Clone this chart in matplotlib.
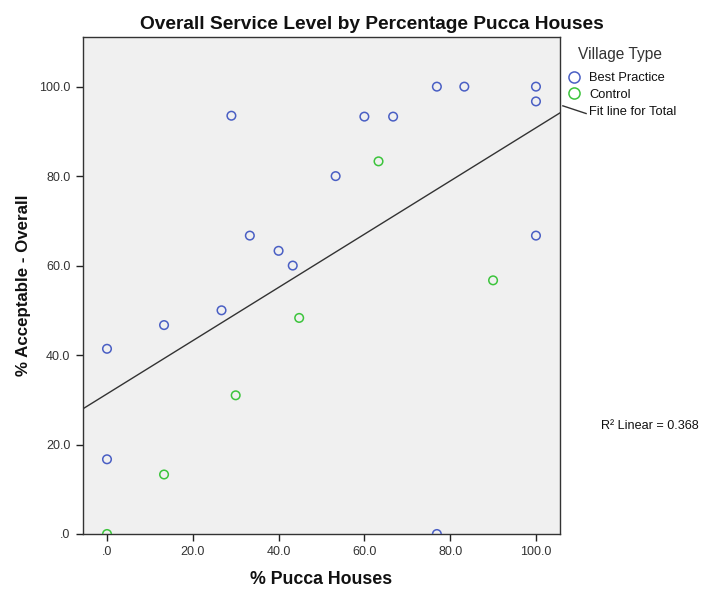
import numpy as np
import matplotlib
matplotlib.use("Agg")
import matplotlib.pyplot as plt
from matplotlib.lines import Line2D
from matplotlib.legend_handler import HandlerBase

plt.rcParams['font.family'] = ['Liberation Sans', 'DejaVu Sans']

# % pucca houses vs % acceptable, by village type
best_x = [0, 0, 13.3, 26.7, 29.0, 33.3, 40.0, 43.3, 53.3, 60.0, 66.7,
          76.9, 76.9, 83.3, 100, 100, 100]
best_y = [16.7, 41.4, 46.7, 50.0, 93.5, 66.7, 63.3, 60.0, 80.0, 93.3, 93.3,
          100, 0, 100, 100, 96.7, 66.7]
ctrl_x = [0, 13.3, 30.0, 44.8, 63.3, 90.0]
ctrl_y = [0, 13.3, 31.0, 48.3, 83.3, 56.7]

ticks = [0, 20, 40, 60, 80, 100]
tick_labels = ['.0', '20.0', '40.0', '60.0', '80.0', '100.0']
r2_text = 'R\u00b2 Linear = 0.368'

blue = '#4a5fc4'
green = '#3cc43c'
dark = '#222222'


class DiagonalHandler(HandlerBase):
    # short descending stroke used as the fit-line key
    def create_artists(self, legend, orig_handle, xdescent, ydescent,
                       width, height, fontsize, trans):
        c = height / 2 - ydescent
        ln = Line2D([-xdescent, width - xdescent],
                    [c + 0.48 * height, c - 0.37 * height],
                    color=orig_handle.get_color(), lw=orig_handle.get_linewidth())
        ln.set_transform(trans)
        return [ln]


fig = plt.figure(figsize=(7.02, 5.89), dpi=100)
ax = fig.add_axes([0.1182, 0.0934, 0.6795, 0.8438])
ax.set_facecolor('#f0f0f0')

ax.scatter(best_x, best_y, s=38, facecolors='none', edgecolors=blue,
           linewidths=1.1, zorder=3)
ax.scatter(ctrl_x, ctrl_y, s=38, facecolors='none', edgecolors=green,
           linewidths=1.1, zorder=3)

# least-squares fit over all villages
all_x = np.array(best_x + ctrl_x)
all_y = np.array(best_y + ctrl_y)
slope, icpt = np.polyfit(all_x, all_y, 1)
xl = (-5.6, 105.6)
fx = np.array(xl)
ax.plot(fx, icpt + slope * fx, color='#333333', lw=1.0, zorder=2)

ax.set_xlim(*xl)
ax.set_ylim(0, 111.1)
ax.set_xticks(ticks)
ax.set_xticklabels(tick_labels)
ax.set_yticks(ticks)
ax.set_yticklabels(tick_labels)
ax.tick_params(direction='out', length=5, width=1, color=dark,
               labelcolor='#333333', labelsize=9, pad=4)
for sp in ax.spines.values():
    sp.set_color('#333333')
    sp.set_linewidth(1.0)

# title is centred over plot + legend area
ax.set_title('Overall Service Level by Percentage Pucca Houses', x=0.606,
             fontsize=13.8, fontweight='bold', color='#111111', pad=5.5)
ax.set_xlabel('% Pucca Houses', fontsize=12.8, fontweight='bold',
              color='#111111', labelpad=9)
ax.set_ylabel('% Acceptable - Overall', fontsize=12.2, fontweight='bold',
              color='#111111', labelpad=6)

# legend: title drawn separately so its spacing can be set on its own
ax.text(1.038, 0.964, 'Village Type', transform=ax.transAxes, fontsize=11.2,
        color='#333333', ha='left', va='center', clip_on=False)
handles = [
    Line2D([], [], ls='none', marker='o', ms=8, mfc='none', mec=blue, mew=1.1),
    Line2D([], [], ls='none', marker='o', ms=8, mfc='none', mec=green, mew=1.1),
    Line2D([], [], color='#333333', lw=1.0),
]
leg = ax.legend(handles, ['Best Practice', 'Control', 'Fit line for Total'],
                loc='upper left', bbox_to_anchor=(1.006, 0.929),
                frameon=False, fontsize=9.3, handlelength=1.8,
                handletextpad=0.25, labelspacing=0.36, borderaxespad=0.0,
                borderpad=0.0,
                handler_map={handles[2]: DiagonalHandler()})
for t in leg.get_texts():
    t.set_color('#111111')

ax.text(1.086, 0.217, r2_text, transform=ax.transAxes, fontsize=9.1,
        color='#111111', ha='left', va='center', clip_on=False)

fig.savefig('out.png', dpi=100)
